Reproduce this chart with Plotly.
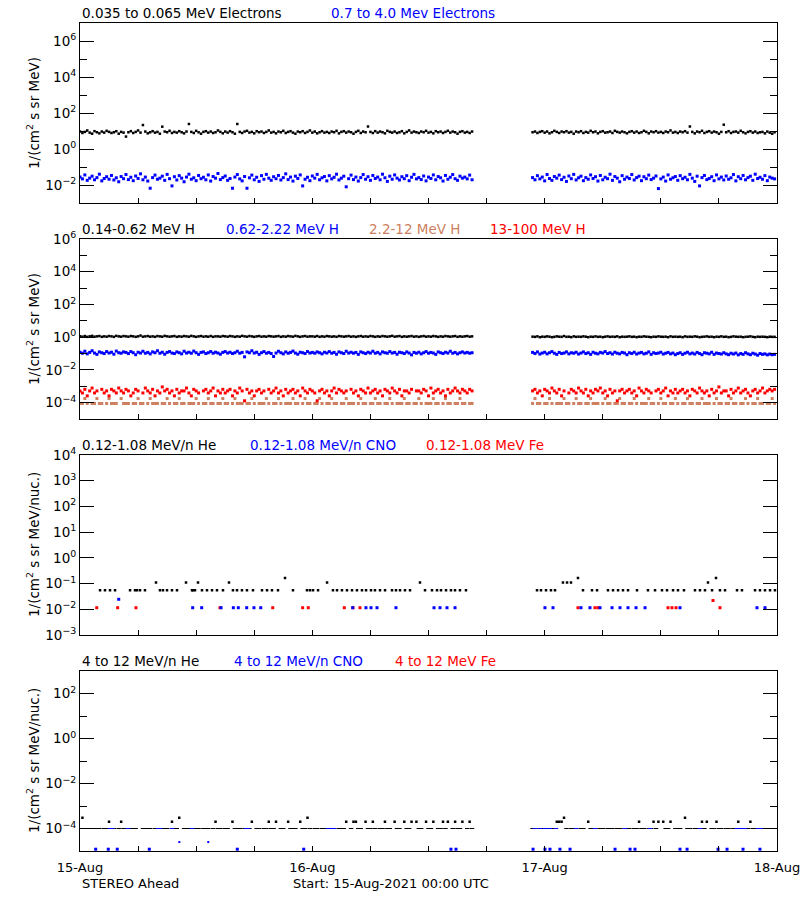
import plotly.graph_objects as go

# ---------------- time sampling (hours since 15-Aug-2021 00:00 UTC) ----------------
CAD = 0.25            # 15-minute samples
SEG_A_START = 0.0     # first data segment
SEG_B_START = 46.75   # data resumes after the gap on 16-Aug

# ---------------- Panel 1: electrons, log10(flux) x 100 ----------------
e_lo_A = [97, 89, 95, 103, 91, 85, 99, 93, 87, 97, 91, 101, 95, 89, 93, 99, 85, 95, 91, 69,
          93, 99, 89, 95, 103, 91, 133, 97, 87, 93, 99, 91, 95, 85, 124, 97, 93, 101, 89, 95,
          91, 99, 93, 87, 97, 139, 95, 89, 101, 93, 85, 95, 99, 91, 97, 89, 93, 103, 95, 87,
          97, 91, 99, 93, 85, 139, 95, 89, 97, 101, 91, 95, 87, 99, 93, 97, 89, 95, 103, 91,
          95, 87, 97, 93, 101, 89, 95, 99, 91, 85, 97, 93, 99, 89, 95, 103, 91, 97, 87, 93,
          99, 91, 95, 89, 97, 93, 101, 87, 95, 99, 91, 97, 93, 85, 95, 101, 89, 97, 93, 125,
          95, 89, 99, 91, 97, 93, 87, 101, 95, 91, 97, 89, 93, 99, 87, 95, 103, 91, 97, 93,
          89, 97, 93, 101, 91, 95, 87, 99, 93, 97, 89, 95, 101, 91, 97, 93, 85, 95, 99, 91,
          95, 89, 97]
e_lo_B = [93, 97, 89, 95, 99, 91, 97, 87, 93, 101, 95, 89, 97, 93, 99, 91, 95, 85, 97, 93,
          99, 89, 95, 91, 101, 93, 97, 87, 95, 99, 91, 93, 97, 89, 101, 95, 91, 97, 93, 87,
          95, 99, 91, 97, 89, 93, 101, 95, 87, 97, 93, 99, 91, 95, 89, 97, 93, 103, 91, 95,
          89, 97, 93, 99, 91, 125, 95, 87, 97, 93, 101, 89, 95, 99, 91, 97, 93, 85, 95, 135,
          93, 99, 89, 95, 97, 91, 101, 93, 87, 95, 99, 91, 97, 89, 93, 95, 87, 97, 91, 85,
          93]
e_hi_A = [-156, -166, -144, -174, -162, -151, -171, -159, -140, -177, -164, -154, -168, -147, -172, -160, -182, -153, -165, -142,
          -170, -157, -176, -150, -164, -138, -171, -156, -178, -218, -159, -145, -168, -162, -151, -174, -141, -165, -205, -154,
          -172, -148, -162, -182, -156, -140, -168, -160, -176, -147, -165, -157, -171, -144, -178, -153, -162, -136, -170, -159,
          -150, -174, -164, -218, -156, -142, -166, -177, -153, -218, -160, -145, -171, -157, -180, -148, -168, -141, -162, -174,
          -154, -165, -147, -172, -159, -138, -170, -156, -178, -151, -164, -144, -205, -168, -157, -176, -150, -162, -141, -171,
          -160, -153, -177, -148, -166, -157, -140, -172, -162, -151, -210, -165, -145, -170, -156, -178, -159, -142, -168, -154,
          -174, -147, -164, -156, -171, -140, -160, -180, -151, -168, -144, -162, -172, -154, -165, -148, -176, -157, -141, -166,
          -159, -170, -150, -177, -156, -164, -144, -171, -153, -160, -178, -147, -168, -157, -142, -165, -174, -151, -162, -156,
          -166, -145, -171]
e_hi_B = [-159, -171, -148, -166, -156, -177, -142, -164, -174, -153, -162, -145, -170, -157, -180, -150, -165, -141, -172, -160,
          -151, -176, -159, -168, -144, -164, -154, -178, -147, -171, -157, -165, -140, -174, -153, -162, -182, -148, -168, -156,
          -164, -142, -172, -159, -151, -176, -154, -165, -145, -170, -162, -150, -220, -166, -156, -178, -144, -168, -160, -153,
          -174, -148, -165, -157, -171, -141, -162, -180, -151, -205, -159, -147, -170, -164, -154, -176, -144, -166, -156, -172,
          -150, -168, -160, -142, -177, -154, -165, -147, -171, -159, -151, -174, -140, -164, -157, -168, -148, -176, -156, -162,
          -166]

# ---------------- Panel 2: protons ----------------
# log10(flux) x 100
h1_A = [5, 3, 7, 2, 5, 8, 3, 5, 7, 2, 5, 3, 7, 5, 2, 8, 5, 3, 7, 5,
        3, 7, 5, 2, 5, 10, 3, 5, 7, 3, 5, 2, 7, 5, 3, 8, 5, 3, 5, 7,
        2, 5, 3, 7, 5, 3, 8, 5, 2, 5, 7, 3, 5, 3, 7, 2, 5, 5, 3, 7,
        5, 3, 7, 5, 2, 5, 3, 8, 5, 3, 7, 5, 2, 5, 7, 3, 5, 3, 7, 5,
        3, 5, 7, 2, 5, 3, 7, 5, 3, 8, 5, 2, 5, 7, 3, 5, 5, 3, 7, 2,
        5, 3, 7, 5, 3, 5, 2, 7, 5, 3, 5, 7, 3, 5, 2, 5, 7, 3, 5, 3,
        7, 5, 2, 5, 3, 7, 5, 3, 5, 8, 3, 5, 7, 2, 5, 3, 5, 7, 3, 5,
        2, 5, 7, 3, 5, 3, 7, 5, 2, 5, 3, 7, 5, 3, 5, 7, 2, 5, 3, 5,
        7, 3, 5]
h1_B = [3, 2, 5, 0, 3, 2, 5, 3, 0, 2, 5, 3, 2, 7, 2, 3, 0, 5, 2, 3,
        2, 5, 3, 0, 3, 2, 5, 2, 3, 0, 3, 5, 2, 3, 2, 5, 0, 3, 2, 3,
        5, 2, 3, 0, 3, 2, 5, 3, 2, 0, 3, 2, 5, 3, 2, 3, 0, 5, 2, 3,
        2, 3, 0, 5, 2, 3, 2, 5, 3, 0, 2, 3, 5, 2, 3, 0, 3, 2, 5, 2,
        3, 0, 2, 5, 3, 2, 3, 0, 2, 3, 5, 2, 0, 3, 2, 3, 2, 0, 3, 2,
        2]
h2_A = [-92, -98, -86, -102, -93, -83, -97, -105, -90, -95, -100, -88, -97, -92, -104, -85, -95, -98, -90, -93,
        -100, -88, -95, -107, -92, -97, -86, -98, -93, -102, -90, -95, -83, -98, -92, -104, -93, -88, -97, -100,
        -90, -95, -102, -86, -97, -92, -98, -85, -95, -105, -93, -90, -100, -95, -88, -98, -92, -97, -104, -93,
        -88, -97, -92, -100, -95, -86, -98, -93, -120, -90, -95, -83, -97, -92, -105, -95, -88, -98, -93, -100,
        -118, -97, -86, -95, -102, -90, -98, -93, -85, -97, -104, -92, -95, -100, -88, -97, -93, -98, -90, -95,
        -102, -92, -97, -88, -98, -93, -104, -90, -95, -100, -86, -97, -92, -98, -93, -105, -90, -95, -100, -92,
        -97, -86, -98, -93, -102, -90, -95, -98, -88, -97, -93, -104, -92, -95, -100, -90, -97, -108, -93, -98,
        -92, -102, -95, -88, -98, -93, -97, -105, -90, -95, -100, -92, -97, -86, -98, -93, -102, -95, -90, -97,
        -93, -98, -95]
h2_B = [-93, -100, -90, -103, -97, -92, -102, -95, -88, -98, -105, -93, -100, -97, -90, -102, -95, -98, -92, -103,
        -97, -90, -100, -95, -105, -92, -98, -102, -93, -97, -88, -100, -95, -103, -92, -98, -102, -93, -97, -107,
        -95, -100, -92, -103, -97, -93, -102, -98, -90, -105, -95, -100, -97, -92, -103, -98, -93, -102, -97, -107,
        -100, -95, -105, -98, -92, -102, -97, -103, -93, -100, -107, -95, -98, -102, -92, -105, -97, -100, -103, -95,
        -102, -107, -98, -103, -97, -108, -100, -105, -95, -102, -107, -98, -103, -110, -100, -105, -102, -108, -103, -107,
        -105]
# counts per sample (flux = counts x unit)
H3_UNIT = 8.9e-5
h3_A = [1, 1, 2, 1, 0, 1, 1, 2, 1, 1, 0, 1, 2, 1, 1, 1, 0, 2, 1, 1,
        1, 0, 1, 1, 2, 1, 1, 0, 1, 2, 1, 1, 1, 0, 1, 1, 2, 1, 0, 1,
        1, 2, 1, 1, 0, 1, 1, 1, 2, 1, 0, 1, 1, 2, 1, 1, 0, 1, 1, 2,
        1, 1, 0, 1, 2, 1, 1, 1, 0, 1, 1, 2, 1, 0, 1, 1, 1, 2, 1, 0,
        1, 1, 2, 1, 0, 1, 1, 1, 2, 1, 1, 0, 1, 2, 1, 1, 0, 1, 1, 2,
        1, 0, 1, 1, 2, 1, 1, 0, 1, 1, 2, 1, 1, 1, 0, 1, 2, 1, 1, 0,
        1, 1, 2, 1, 1, 0, 1, 1, 2, 1, 0, 1, 1, 1, 2, 1, 1, 0, 1, 1,
        2, 1, 0, 1, 1, 1, 2, 1, 1, 0, 1, 2, 1, 1, 0, 1, 1, 2, 1, 1,
        0, 1, 1]
h3_B = [1, 2, 1, 1, 0, 1, 1, 2, 1, 0, 1, 1, 1, 2, 1, 1, 0, 1, 2, 1,
        1, 0, 1, 1, 2, 1, 1, 1, 0, 1, 2, 1, 1, 0, 1, 1, 2, 1, 1, 0,
        1, 1, 2, 1, 0, 1, 1, 1, 2, 1, 1, 0, 1, 2, 1, 1, 0, 1, 1, 2,
        1, 0, 1, 1, 2, 1, 1, 0, 1, 1, 2, 1, 1, 1, 0, 1, 2, 1, 1, 0,
        1, 1, 2, 1, 1, 0, 1, 1, 2, 1, 0, 1, 1, 2, 1, 1, 0, 1, 1, 2,
        1]
H4_UNIT = 1.3e-4
h4_A = [4, 3, 5, 2, 4, 6, 3, 4, 0, 5, 3, 4, 2, 5, 4, 3, 6, 4, 3, 5,
        4, 2, 3, 5, 4, 0, 3, 6, 4, 3, 5, 2, 4, 3, 7, 4, 5, 3, 4, 2,
        5, 3, 4, 4, 6, 3, 2, 5, 4, 3, 0, 4, 5, 3, 4, 6, 2, 4, 3, 5,
        3, 4, 5, 2, 4, 3, 6, 4, 1, 5, 3, 4, 2, 4, 5, 3, 4, 0, 5, 3,
        4, 6, 3, 4, 2, 5, 3, 4, 5, 3, 4, 2, 6, 4, 3, 5, 4, 3, 1, 4,
        5, 3, 4, 2, 4, 6, 3, 5, 4, 3, 4, 0, 5, 3, 4, 2, 5, 4, 3, 6,
        3, 4, 5, 3, 4, 2, 5, 4, 3, 6, 4, 3, 5, 2, 4, 4, 3, 5, 0, 4,
        4, 3, 5, 4, 2, 6, 3, 4, 5, 3, 4, 2, 5, 3, 4, 6, 4, 3, 5, 4,
        3, 5, 4]
h4_B = [4, 5, 3, 4, 2, 5, 4, 3, 6, 4, 3, 5, 2, 4, 0, 3, 5, 4, 3, 6,
        4, 3, 5, 2, 4, 3, 5, 4, 6, 3, 4, 2, 5, 3, 4, 1, 4, 5, 3, 4,
        5, 3, 4, 2, 6, 4, 3, 5, 4, 3, 0, 4, 5, 3, 4, 6, 2, 4, 3, 5,
        3, 4, 5, 3, 4, 2, 5, 4, 3, 6, 4, 3, 4, 2, 5, 3, 4, 7, 3, 4,
        4, 2, 5, 3, 4, 6, 3, 4, 5, 3, 2, 4, 5, 3, 4, 6, 3, 4, 5, 4,
        5]

# ---------------- Panel 3: 0.12-1.08 MeV/n heavy ions (hours, per flux level) ----------------
HE_LO_LEVELS = [0.055, 0.11, 0.165]
he_lo_t1 = [2.07, 2.58, 3.10, 3.62, 5.17, 5.68, 5.89, 6.20, 6.71, 8.26, 8.57, 8.99, 9.50, 10.02,
            11.57, 11.67, 11.88, 12.60, 13.12, 13.64, 14.15, 14.77, 15.80, 16.22, 16.73, 17.25,
            17.87, 18.80, 19.32, 19.83, 20.45, 22.00, 23.45, 23.76, 24.07, 24.59, 26.13, 26.55,
            27.06, 27.58, 28.10, 28.61, 29.13, 29.55, 30.06, 30.47, 30.99, 31.51, 32.23, 32.64,
            33.06, 33.57, 34.09, 35.64, 36.36, 36.88, 37.29, 37.81, 38.32, 38.74, 39.25, 39.87,
            47.21, 47.62, 48.14, 48.65, 49.07, 51.96, 52.89, 53.41, 54.54, 55.06, 55.58, 56.09,
            56.61, 57.54, 58.67, 59.40, 60.12, 60.64, 61.26, 61.77, 62.39, 63.53, 64.04, 64.56,
            65.29, 66.11, 66.63, 67.87, 68.38, 69.73, 70.24, 70.76, 71.28, 71.79]
he_lo_t2 = [7.85, 10.95, 12.19, 15.39, 25.52, 35.12, 49.89, 50.31, 50.72, 64.87]
he_lo_t3 = [21.18, 51.44, 65.70]
CNO_LO_LEVELS = [0.0115, 0.0245]
cno_lo_t1 = [11.64, 12.57, 14.57, 15.84, 16.35, 17.22, 17.97, 18.67, 28.17, 29.54, 30.06, 30.68,
             32.64, 36.57, 37.19, 37.91, 38.74, 48.03, 48.86, 51.75, 52.68, 53.72, 54.96, 55.78,
             56.61, 57.44, 58.37, 61.98, 69.93, 70.76]
cno_lo_t2 = [4.00]
FE_LO_LEVELS = [0.0115, 0.022]
fe_lo_t1 = [1.73, 3.89, 5.78, 14.46, 19.91, 23.00, 23.58, 27.30, 28.20, 28.92, 51.44, 53.20,
            53.51, 60.74, 61.15, 61.57, 66.11]
fe_lo_t2 = [65.39]

# ---------------- Panel 4: 4-12 MeV/n heavy ions ----------------
HE_HI_UNIT = 1.0e-4
he_hi_A = [1, 3, 1, 1, 1, 0, 1, 1, 1, 0, 1, 1, 2, 1, 1, 0, 1, 2, 1, 1,
           0, 1, 1, 1, 0, 0, 1, 1, 1, 1, 0, 1, 1, 0, 1, 1, 1, 0, 2, 1,
           1, 3, 0, 1, 1, 1, 0, 0, 1, 1, 0, 1, 1, 1, 0, 1, 2, 1, 1, 0,
           1, 1, 0, 2, 1, 1, 1, 0, 1, 1, 1, 2, 0, 1, 1, 0, 1, 1, 2, 1,
           1, 2, 0, 1, 1, 0, 2, 1, 1, 1, 0, 2, 1, 1, 3, 1, 0, 1, 1, 0,
           1, 1, 1, 0, 1, 1, 0, 1, 1, 1, 2, 0, 1, 2, 2, 1, 1, 0, 2, 1,
           1, 2, 1, 0, 1, 1, 2, 1, 1, 0, 2, 1, 1, 0, 2, 1, 1, 2, 0, 2,
           1, 1, 0, 2, 1, 1, 2, 0, 1, 1, 2, 1, 2, 0, 1, 2, 1, 1, 2, 0,
           1, 2, 1]
he_hi_B = [1, 1, 0, 1, 1, 1, 0, 1, 1, 1, 2, 2, 2, 3, 1, 0, 1, 1, 1, 0,
           1, 1, 0, 2, 1, 1, 1, 0, 1, 1, 0, 1, 1, 1, 0, 1, 1, 0, 1, 1,
           1, 0, 1, 1, 2, 1, 1, 0, 1, 1, 2, 1, 2, 0, 2, 1, 1, 2, 0, 1,
           1, 1, 0, 3, 1, 1, 0, 1, 1, 1, 2, 1, 2, 0, 1, 1, 2, 1, 1, 0,
           1, 1, 0, 1, 1, 2, 1, 1, 0, 1, 2, 1, 1, 0, 1, 1, 1, 0, 1, 1,
           1]
CNO_HI_LEVELS = [1.0e-4, 1.2e-5, 2.5e-5]
cno_hi_t1 = [3.10, 3.31, 4.96, 8.06, 8.26, 9.50, 11.57, 17.15, 17.35, 25.62, 25.93, 26.24,
             47.00, 47.52, 48.03, 48.55, 49.17, 51.24, 53.20, 56.30, 58.88, 64.04, 67.87,
             68.28, 68.69, 70.04, 70.45, 70.86]
cno_hi_t2 = [1.62, 2.92, 3.85, 7.16, 16.25, 23.11, 38.32, 38.84, 46.80, 48.03, 48.55, 49.58,
             50.62, 55.27, 56.82, 57.33, 61.98, 62.71, 65.91, 66.84, 68.49, 70.24]
cno_hi_t3 = [10.26, 13.25]

# ---------------- labels ----------------
DAY_HOURS = [0, 24, 48, 72]
DAY_LABELS = ["15-Aug", "16-Aug", "17-Aug", "18-Aug"]
SIX_HOURS = [6, 12, 18, 30, 36, 42, 54, 60, 66]
BROWN = "#CD7F60"
LEGENDS = [
    [("0.035 to 0.065 MeV Electrons", "black", 80), ("0.7 to 4.0 Mev Electrons", "blue", 329)],
    [("0.14-0.62 MeV H", "black", 80), ("0.62-2.22 MeV H", "blue", 224),
     ("2.2-12 MeV H", BROWN, 367), ("13-100 MeV H", "red", 488)],
    [("0.12-1.08 MeV/n He", "black", 80), ("0.12-1.08 MeV/n CNO", "blue", 248),
     ("0.12-1.08 MeV Fe", "red", 424)],
    [("4 to 12 MeV/n He", "black", 80), ("4 to 12 MeV/n CNO", "blue", 232),
     ("4 to 12 MeV Fe", "red", 393)],
]
YTITLES = ["1/(cm<sup>2</sup> s sr MeV)", "1/(cm<sup>2</sup> s sr MeV)",
           "1/(cm<sup>2</sup> s sr MeV/nuc.)", "1/(cm<sup>2</sup> s sr MeV/nuc.)"]

W, H = 800, 900
PANELS = [(23, 203), (239, 419), (455, 635), (671, 851)]
YRANGES = [(-3, 7), (-5, 6), (-3, 4), (-5, 3)]
YMAJOR = [[-2, 0, 2, 4, 6], [-4, -2, 0, 2, 4, 6], [-3, -2, -1, 0, 1, 2, 3, 4], [-4, -2, 0, 2]]
YMINOR = [[-1, 1, 3, 5], [-3, -1, 1, 3, 5], [], [-3, -1, 1]]
X0, X1 = 80, 777

fig = go.Figure()


def seg_times(start, n):
    return [start + CAD * i for i in range(n)]


def add(panel, x, y, color, size=2.5, symbol="square"):
    sfx = "" if panel == 1 else str(panel)
    if symbol == "line-ew":
        marker = dict(symbol=symbol, size=size, color=color, line=dict(width=1, color=color))
    else:
        marker = dict(symbol=symbol, size=size, color=color, line=dict(width=0))
    fig.add_trace(go.Scatter(x=x, y=y, mode="markers", marker=marker, xaxis="x" + sfx,
                             yaxis="y" + sfx, showlegend=False, hoverinfo="skip"))


def add_log(panel, a, b, color, size=2.5):
    x = seg_times(SEG_A_START, len(a)) + seg_times(SEG_B_START, len(b))
    y = [10 ** (v / 100.0) for v in a + b]
    add(panel, x, y, color, size)


def add_counts(panel, a, b, unit, color, size=2.5, levels=None, symbol="square"):
    x = seg_times(SEG_A_START, len(a)) + seg_times(SEG_B_START, len(b))
    xs, ys = [], []
    for xi, ci in zip(x, a + b):
        if ci > 0 and (levels is None or ci in levels):
            xs.append(xi)
            ys.append(ci * unit)
    add(panel, xs, ys, color, size, symbol)


# panel 1
add_log(1, e_lo_A, e_lo_B, "black", 2.5)
add_log(1, e_hi_A, e_hi_B, "blue", 3)
# panel 2
add_counts(2, h3_A, h3_B, H3_UNIT, BROWN, 3)
add_counts(2, h4_A, h4_B, H4_UNIT, "red", 3)
add_log(2, h1_A, h1_B, "black", 2.5)
add_log(2, h2_A, h2_B, "blue", 3)
# panel 3
add(3, he_lo_t1, [HE_LO_LEVELS[0]] * len(he_lo_t1), "black", 2.5)
add(3, he_lo_t2, [HE_LO_LEVELS[1]] * len(he_lo_t2), "black", 2.5)
add(3, he_lo_t3, [HE_LO_LEVELS[2]] * len(he_lo_t3), "black", 2.5)
add(3, fe_lo_t1, [FE_LO_LEVELS[0]] * len(fe_lo_t1), "red", 3)
add(3, fe_lo_t2, [FE_LO_LEVELS[1]] * len(fe_lo_t2), "red", 3)
add(3, cno_lo_t1, [CNO_LO_LEVELS[0]] * len(cno_lo_t1), "blue", 3)
add(3, cno_lo_t2, [CNO_LO_LEVELS[1]] * len(cno_lo_t2), "blue", 3)
# panel 4
add_counts(4, he_hi_A, he_hi_B, HE_HI_UNIT, "black", 3.2, levels=[1], symbol="line-ew")
add_counts(4, he_hi_A, he_hi_B, HE_HI_UNIT, "black", 2.5, levels=[2, 3])
add(4, cno_hi_t1, [CNO_HI_LEVELS[0]] * len(cno_hi_t1), "blue", 3.2, "line-ew")
add(4, cno_hi_t2, [CNO_HI_LEVELS[1]] * len(cno_hi_t2), "blue", 3)
add(4, cno_hi_t3, [CNO_HI_LEVELS[2]] * len(cno_hi_t3), "blue", 2)


def sup(e):
    return "10<sup>" + str(e).replace("-", "\u2212") + "</sup>"


layout = dict(width=W, height=H, margin=dict(l=0, r=0, t=0, b=0, autoexpand=False),
              plot_bgcolor="white", paper_bgcolor="white", showlegend=False,
              font=dict(family="DejaVu Sans", size=13, color="black"))
annotations = []
xdom = [X0 / W, X1 / W]
for i, (top, bot) in enumerate(PANELS):
    n = i + 1
    sfx = "" if n == 1 else str(n)
    layout["xaxis" + sfx] = dict(
        domain=xdom, range=[0, 72], anchor="y" + sfx, automargin=False,
        tickmode="array", tickvals=DAY_HOURS, ticktext=DAY_LABELS,
        ticks="inside", ticklen=5, tickcolor="black", showline=True,
        linecolor="black", linewidth=1, mirror=True, showgrid=False, zeroline=False,
        showticklabels=(n == 4), tickfont=dict(size=13), ticklabeloverflow="allow",
        ticklabelstandoff=4,
        minor=dict(tickmode="array", tickvals=SIX_HOURS, ticks="inside", ticklen=5,
                   tickcolor="black", showgrid=False))
    ymaj = YMAJOR[i]
    layout["yaxis" + sfx] = dict(
        domain=[1 - bot / H, 1 - top / H], type="log", range=list(YRANGES[i]),
        anchor="x" + sfx, automargin=False, ticklabeloverflow="allow",
        tickmode="array", tickvals=[10.0 ** e for e in ymaj], ticktext=[sup(e) for e in ymaj],
        ticks="inside", ticklen=14, tickcolor="black", showline=True, linecolor="black",
        linewidth=1, mirror="ticks", showgrid=False, zeroline=False, tickfont=dict(size=13.5),
        minor=dict(tickmode="array", tickvals=[10.0 ** e for e in YMINOR[i]], ticks="inside",
                   ticklen=7, tickcolor="black", showgrid=False))
    for text, color, xl in LEGENDS[i]:
        annotations.append(dict(text=text, x=xl / W, y=1 - (top - 10) / H, xref="paper",
                                yref="paper", xanchor="left", yanchor="middle", showarrow=False,
                                font=dict(size=13.5, color=color)))
    annotations.append(dict(text=YTITLES[i], x=33 / W, y=1 - (top + bot) / 2 / H, xref="paper",
                            yref="paper", xanchor="center", yanchor="middle", textangle=-90,
                            showarrow=False, font=dict(size=13.5, color="black")))

annotations.append(dict(text="STEREO Ahead", x=80 / W, y=1 - 883 / H, xref="paper", yref="paper",
                        xanchor="left", yanchor="middle", showarrow=False, font=dict(size=13)))
annotations.append(dict(text="Start: 15-Aug-2021 00:00 UTC", x=291 / W, y=1 - 883 / H,
                        xref="paper", yref="paper", xanchor="left", yanchor="middle",
                        showarrow=False, font=dict(size=13)))
layout["annotations"] = annotations
fig.update_layout(**layout)
# remove the browser's default 8px page margin so the figure sits at the window origin
fig.write_html("out.html", config={"displayModeBar": False},
               post_script="document.body.style.margin='0';")
